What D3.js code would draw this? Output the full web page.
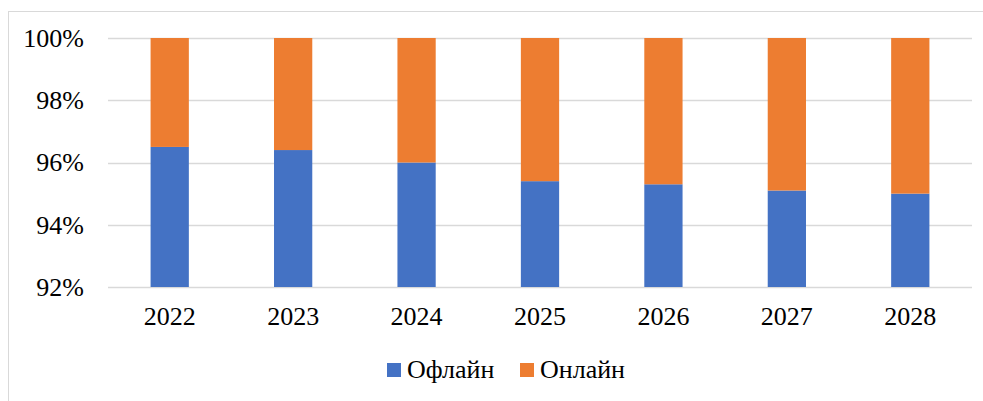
<!DOCTYPE html>
<html lang="ru">
<head>
<meta charset="UTF-8">
<title>Офлайн / Онлайн</title>
<script src="https://d3js.org/d3.v7.min.js"></script>
<style>
  body { margin: 0; background: #fff; }
  text { font-family: "Liberation Serif", "Times New Roman", serif; fill: #000; }
</style>
</head>
<body>
<script>
// data
const years = ["2022", "2023", "2024", "2025", "2026", "2027", "2028"];
const offline = [96.5, 96.4, 96.0, 95.4, 95.3, 95.1, 95.0];
const online = offline.map(v => +(100 - v).toFixed(1));
const seriesNames = ["Офлайн", "Онлайн"];
const seriesColors = ["#4472C4", "#ED7D31"];
const yTicks = [92, 94, 96, 98, 100];

const W = 983, H = 401;
const plotLeft = 108, plotRight = 972, plotTop = 38, plotBottom = 287;

const svg = d3.select("body").append("svg")
    .attr("width", W).attr("height", H);

// outer chart border (cropped at right and bottom)
svg.append("rect")
    .attr("x", 8.5).attr("y", 11.5)
    .attr("width", W).attr("height", H)
    .attr("fill", "#fff").attr("stroke", "#d9d9d9").attr("stroke-width", 1);

const x = d3.scaleBand().domain(years).range([plotLeft, plotRight]).paddingInner(0.69).paddingOuter(0.345);
const y = d3.scaleLinear().domain([92, 100]).range([plotBottom, plotTop]);

// gridlines
svg.append("g").selectAll("line")
    .data(yTicks)
    .join("line")
    .attr("x1", plotLeft).attr("x2", plotRight)
    .attr("y1", d => Math.round(y(d)) + 0.5).attr("y2", d => Math.round(y(d)) + 0.5)
    .attr("stroke", "#d9d9d9").attr("stroke-width", 1.3);

// stacked bars
const rows = years.map((yr, i) => ({ year: yr, off: offline[i], on: online[i] }));
const stack = d3.stack().keys(["off", "on"]).offset(d3.stackOffsetExpand)(rows);

svg.append("g").selectAll("g")
    .data(stack)
    .join("g")
    .attr("fill", (d, i) => seriesColors[i])
    .selectAll("rect")
    .data(d => d)
    .join("rect")
    .attr("x", d => x(d.data.year))
    .attr("width", x.bandwidth())
    .attr("y", d => y(Math.max(92, d[1] * 100)))
    .attr("height", d => y(Math.max(92, d[0] * 100)) - y(Math.max(92, d[1] * 100)));

// y axis labels
const yAxis = svg.append("g")
    .attr("transform", `translate(${plotLeft},0)`)
    .call(d3.axisLeft(y).tickValues(yTicks).tickFormat(d => d + "%").tickSize(0).tickPadding(24));
yAxis.select(".domain").remove();
yAxis.selectAll("text").style("font-size", "26px").style("font-family", "Liberation Serif");

// x axis labels
const xAxis = svg.append("g")
    .attr("transform", `translate(0,${plotBottom})`)
    .call(d3.axisBottom(x).tickSize(0).tickPadding(20));
xAxis.select(".domain").remove();
xAxis.selectAll("text").style("font-size", "26px").style("font-family", "Liberation Serif");

// legend
const legendX = [387, 520];
const legend = svg.append("g").selectAll("g")
    .data(seriesNames)
    .join("g")
    .attr("transform", (d, i) => `translate(${legendX[i]},363)`);
legend.append("rect")
    .attr("width", 14).attr("height", 14)
    .attr("fill", (d, i) => seriesColors[i]);
legend.append("text")
    .attr("x", 20).attr("y", 15)
    .style("font-size", "26px")
    .text(d => d);
</script>
</body>
</html>
